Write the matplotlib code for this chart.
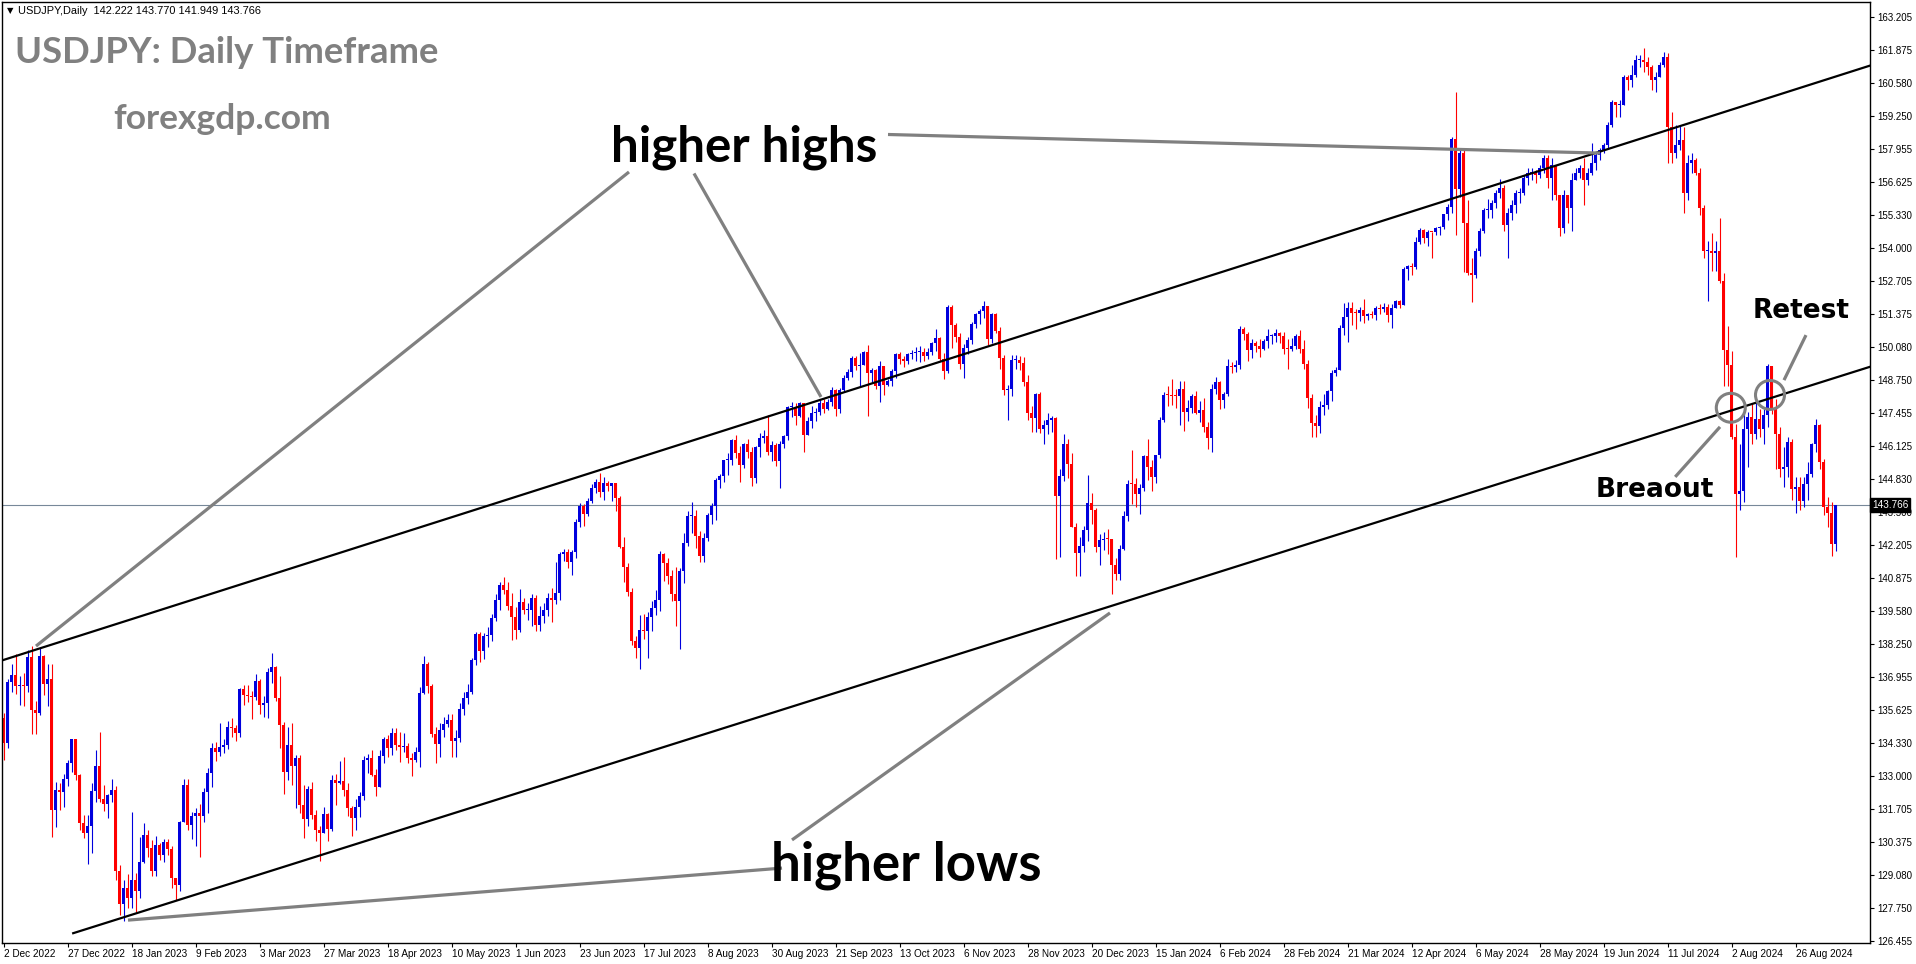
import numpy as np
import matplotlib.pyplot as plt
from matplotlib.patches import Ellipse
import matplotlib.transforms as mtransforms

# --- data (USDJPY daily, 2 Dec 2022 .. 9 Sep 2024) ---
first_open = 135.30

close = [
    134.31,
    136.75, 137.02, 136.60, 136.64, 136.58, 137.72, 135.61, 135.51, 137.76, 136.68,
    136.88, 131.67, 132.44, 132.36, 132.88, 133.52, 134.46, 133.04, 131.12,
    130.73, 131.00, 132.42, 133.40, 132.08, 131.89, 132.24, 132.45, 129.23, 127.91,
    128.54, 128.16, 128.88, 128.42, 129.58, 130.66, 130.15, 129.22, 130.24, 129.88,
    130.37, 130.09, 128.94, 128.67, 131.19, 132.63, 131.07, 131.40, 131.54, 131.40,
    132.37, 133.14, 134.13, 133.95, 134.16, 134.25, 134.96, 134.90, 134.70, 136.45,
    136.24, 136.18, 136.14, 136.77, 135.83, 135.90, 137.15, 137.34, 136.11, 135.04,
    133.18, 134.23, 133.42, 133.73, 131.85, 131.28, 132.48, 131.45, 130.87, 130.72,
    131.48, 130.91, 132.86, 132.71, 132.80, 132.44, 131.71, 131.32, 131.76, 132.19,
    133.63, 133.71, 133.06, 132.56, 133.78, 134.48, 134.11, 134.72, 134.23, 134.15,
    134.21, 133.72, 133.62, 133.94, 136.29, 137.46, 136.58, 134.69, 134.26, 134.83,
    135.09, 135.24, 134.41, 134.52, 135.68, 136.10, 136.34, 137.60, 138.67, 137.99,
    138.58, 138.60, 139.29, 139.99, 140.61, 140.40, 139.77, 139.34, 138.81, 139.94,
    139.59, 139.59, 140.10, 139.00, 139.37, 139.62, 140.09, 140.00, 140.30, 141.83,
    141.93, 141.53, 141.92, 143.10, 143.73, 143.44, 143.93, 144.47, 144.70, 144.31,
    144.67, 144.54, 144.65, 144.05, 142.11, 141.31, 140.34, 138.38, 138.10, 138.82,
    138.78, 139.31, 139.70, 140.02, 141.82, 141.49, 140.95, 140.24, 139.96, 141.17,
    142.29, 143.33, 143.33, 142.55, 141.76, 142.47, 143.37, 143.73, 144.77, 144.93,
    145.56, 145.57, 146.35, 145.85, 145.39, 146.19, 145.89, 144.86, 146.10, 146.44,
    146.54, 145.91, 146.18, 145.54, 146.22, 146.51, 147.69, 147.70, 147.32, 147.83,
    146.57, 147.12, 147.46, 147.47, 147.84, 147.62, 147.87, 148.36, 147.59, 148.37,
    148.85, 149.07, 149.62, 149.31, 149.36, 149.85, 149.02, 149.14, 148.50, 149.32,
    148.54, 148.72, 149.10, 149.77, 149.57, 149.53, 149.79, 149.83, 149.88, 149.88,
    149.70, 149.88, 150.21, 150.42, 149.60, 149.11, 151.67, 150.94, 150.45, 149.39,
    150.04, 150.36, 150.98, 151.39, 151.51, 151.68, 150.40, 151.37, 150.70, 149.62,
    148.35, 148.38, 149.54, 149.56, 149.45, 148.69, 147.45, 147.23, 148.21, 146.81,
    146.95, 147.18, 147.25, 144.14, 144.95, 146.20, 145.42, 142.92, 141.88, 142.16,
    142.80, 143.86, 143.59, 142.12, 142.40, 142.42, 142.41, 141.38, 141.03,
    142.05, 143.34, 144.62, 144.61, 144.20, 144.44, 145.74, 145.30, 144.89,
    145.76, 147.18, 148.16, 148.15, 148.12, 148.11, 148.38, 147.47, 147.66, 148.13,
    147.45, 147.58, 146.90, 146.43, 148.38, 148.67, 147.94, 148.19, 149.31, 149.28,
    149.37, 150.78, 150.57, 149.94, 150.21, 150.12, 150.00, 150.30, 150.51, 150.51,
    150.64, 150.49, 149.99, 149.97, 150.10, 150.51, 149.97, 149.38, 148.04, 147.06,
    146.94, 147.68, 147.77, 148.33, 149.05, 149.14, 150.84, 151.25, 151.62, 151.43,
    151.41, 151.55, 151.31, 151.37, 151.34, 151.63, 151.57, 151.66, 151.33, 151.63,
    151.89, 151.73, 153.16, 153.28, 153.25, 154.25, 154.73, 154.40, 154.65, 154.63,
    154.82, 154.83, 155.34, 155.64, 158.33, 156.36, 157.79, 155.00, 153.00, 152.95,
    153.90, 154.70, 155.50, 155.50, 155.80, 156.20, 156.40, 154.90, 155.40, 155.70,
    156.20, 156.20, 156.80, 157.00, 157.00, 156.90, 157.20, 157.60, 156.80, 157.30,
    156.10, 154.80, 156.10, 155.60, 156.70, 157.00, 157.20, 156.70, 157.00, 157.40,
    157.70, 157.90, 158.10, 158.90, 159.80, 159.70, 159.70, 160.80, 160.70, 160.90,
    161.50, 161.50, 161.40, 161.20, 160.70, 160.80, 161.30, 161.60, 158.80, 157.80,
    158.10, 158.30, 156.20, 157.40, 157.50, 157.00, 155.60, 153.90, 153.90, 153.80,
    153.90, 152.70, 149.95, 149.35, 146.50, 144.20, 144.35, 146.80, 147.30, 146.60,
    147.20, 146.80, 147.35, 149.30, 147.60, 146.60, 145.20, 145.30, 146.30, 144.40,
    144.50, 143.95, 144.60, 145.00, 146.20, 146.95, 145.50, 143.70, 143.45, 142.22,
    143.766,
]

high = [
    135.52,
    136.88, 137.45, 137.86, 137.00, 137.11, 138.00, 138.18, 135.99, 138.13, 137.82,
    137.45, 137.47, 132.78, 132.72, 133.08, 133.63, 134.49, 134.40, 133.09,
    131.45, 131.44, 132.71, 134.05, 134.77, 132.66, 132.29, 132.87, 132.59, 129.45,
    128.86, 129.09, 131.58, 129.14, 130.59, 131.12, 130.87, 130.47, 130.60, 130.33,
    130.48, 130.51, 130.23, 128.96, 131.20, 132.90, 132.88, 131.58, 131.74, 131.88,
    132.54, 133.32, 134.32, 134.35, 135.11, 134.48, 135.18, 135.30, 135.03, 136.51,
    136.62, 136.61, 136.37, 137.07, 136.86, 136.19, 137.30, 137.91, 137.38, 136.99,
    135.15, 134.96, 135.11, 133.83, 133.82, 132.65, 132.62, 132.78, 131.64, 131.00,
    131.77, 131.54, 133.04, 133.10, 133.60, 133.76, 132.72, 131.80, 132.08, 132.38,
    133.79, 133.87, 134.04, 133.28, 134.03, 134.57, 134.62, 134.92, 134.93, 134.75,
    134.73, 134.31, 133.91, 134.16, 136.56, 137.77, 137.53, 136.66, 134.97, 135.13,
    135.36, 135.47, 135.47, 134.82, 135.91, 136.33, 136.67, 137.70, 138.75, 138.74,
    138.71, 138.91, 139.46, 140.23, 140.73, 140.93, 140.73, 140.29, 139.73, 140.45,
    140.10, 139.87, 140.23, 140.22, 139.75, 139.89, 140.27, 140.50, 141.50, 141.93,
    142.04, 142.03, 142.00, 143.21, 143.86, 143.82, 144.06, 144.61, 144.81, 145.07,
    144.90, 144.74, 144.67, 144.67, 144.13, 142.50, 141.49, 140.49, 138.56, 139.42,
    139.43, 139.51, 139.98, 140.42, 141.95, 141.87, 141.68, 141.19, 141.32, 141.27,
    142.68, 143.55, 143.89, 143.59, 142.73, 142.67, 143.46, 143.86, 144.84, 145.01,
    145.58, 145.86, 146.41, 146.56, 146.14, 146.25, 146.40, 146.08, 146.13, 146.64,
    146.75, 147.37, 146.31, 146.24, 146.31, 146.55, 147.71, 147.87, 147.82, 147.87,
    147.11, 147.27, 147.74, 147.65, 147.95, 148.01, 148.00, 148.46, 148.39, 148.43,
    148.97, 149.18, 149.71, 149.71, 149.82, 149.90, 150.16, 149.23, 149.21, 149.53,
    149.21, 148.80, 149.20, 149.83, 149.85, 149.72, 149.84, 149.94, 150.08, 150.10,
    150.03, 150.01, 150.27, 150.77, 150.47, 149.83, 151.72, 151.72, 151.01, 150.63,
    150.20, 150.48, 151.05, 151.43, 151.59, 151.91, 151.71, 151.43, 151.43, 150.88,
    149.74, 148.56, 149.74, 149.75, 149.69, 149.67, 148.94, 147.73, 148.23, 148.26,
    147.16, 147.45, 147.33, 147.30, 145.21, 146.59, 146.40, 145.87, 143.08, 142.52,
    142.96, 144.96, 144.25, 143.67, 142.63, 142.69, 142.81, 142.34, 141.68,
    142.21, 143.56, 144.79, 145.98, 144.86, 144.63, 145.79, 146.41, 145.58,
    145.78, 147.30, 148.28, 148.51, 148.80, 148.40, 148.70, 148.70, 147.97, 148.21,
    148.31, 147.91, 148.05, 147.08, 148.58, 148.89, 148.72, 148.27, 149.58, 149.46,
    149.55, 150.89, 150.88, 150.65, 150.39, 150.30, 150.38, 150.37, 150.77, 150.59,
    150.80, 150.68, 150.68, 150.37, 150.41, 150.59, 150.75, 150.35, 149.55, 148.20,
    147.35, 147.93, 148.18, 148.36, 149.16, 149.29, 150.95, 151.82, 151.86, 151.86,
    151.57, 151.65, 151.97, 151.40, 151.48, 151.70, 151.76, 151.81, 151.78, 151.79,
    151.92, 151.93, 153.24, 153.32, 153.40, 154.45, 154.79, 154.78, 154.72, 154.65,
    154.86, 154.88, 155.37, 155.74, 158.44, 160.21, 157.99, 157.99, 155.90, 153.60,
    154.00, 154.80, 155.60, 155.95, 155.90, 156.30, 156.75, 156.50, 155.60, 155.90,
    156.30, 156.40, 156.90, 157.20, 157.20, 157.10, 157.30, 157.70, 157.70, 157.60,
    157.30, 156.10, 156.30, 156.10, 157.00, 157.20, 157.30, 157.60, 157.20, 158.20,
    157.80, 158.00, 158.20, 159.00, 159.90, 159.80, 159.90, 160.90, 160.90, 161.30,
    161.70, 161.70, 161.95, 161.60, 161.30, 161.00, 161.40, 161.80, 161.76, 159.40,
    158.90, 158.90, 158.80, 157.70, 157.80, 157.60, 157.20, 155.70, 154.30, 154.60,
    154.30, 155.20, 153.00, 150.90, 149.90, 147.00, 146.20, 147.90, 147.50, 147.80,
    147.90, 147.60, 147.60, 149.40, 149.30, 148.00, 146.90, 146.10, 146.50, 146.40,
    144.90, 144.90, 144.90, 145.50, 146.25, 147.20, 147.00, 145.60, 144.10, 143.90,
    143.770,
]

low = [
    133.63,
    134.12, 136.34, 136.25, 135.84, 135.78, 136.34, 134.67, 134.67, 135.43, 136.23,
    135.77, 130.58, 130.99, 131.66, 131.77, 132.61, 133.15, 132.86, 130.84,
    130.53, 129.52, 129.93, 131.96, 131.96, 131.61, 131.33, 131.98, 128.86, 127.46,
    127.22, 127.76, 127.77, 127.59, 128.14, 129.55, 129.79, 129.03, 129.03, 129.67,
    129.58, 129.86, 128.56, 128.08, 128.42, 131.53, 130.84, 130.50, 130.20, 129.80,
    131.18, 131.52, 132.56, 133.58, 133.79, 133.90, 134.06, 134.55, 134.38, 134.55,
    135.84, 135.95, 135.26, 136.04, 135.45, 135.36, 135.32, 136.71, 135.99, 134.12,
    132.29, 132.84, 132.66, 131.73, 131.54, 130.54, 131.01, 131.30, 130.40, 129.64,
    130.72, 130.41, 130.82, 131.85, 132.70, 132.22, 131.40, 130.62, 130.85, 131.37,
    132.06, 133.14, 132.99, 132.20, 132.57, 133.52, 133.76, 133.82, 134.02, 133.55,
    133.96, 133.53, 133.01, 133.54, 133.38, 136.28, 136.31, 134.55, 133.50, 133.74,
    134.57, 134.95, 133.75, 133.74, 134.37, 135.42, 135.85, 136.25, 137.42, 137.54,
    137.64, 138.12, 138.36, 139.18, 139.60, 140.23, 139.59, 138.43, 138.44, 138.74,
    139.43, 139.20, 138.97, 138.77, 138.76, 139.08, 139.36, 139.12, 139.86, 139.99,
    141.54, 141.26, 141.00, 141.66, 142.90, 142.93, 143.35, 143.85, 144.27, 144.10,
    143.99, 144.33, 143.93, 143.55, 142.07, 140.71, 140.15, 138.21, 137.69, 137.24,
    138.45, 137.69, 138.79, 139.39, 139.58, 140.74, 140.63, 139.96, 138.96, 138.07,
    140.69, 142.17, 142.66, 142.06, 141.51, 141.51, 142.36, 143.01, 143.19, 144.45,
    144.70, 144.98, 145.37, 145.67, 144.71, 145.25, 145.64, 144.54, 144.64, 145.71,
    146.23, 145.78, 145.52, 145.35, 144.45, 146.03, 146.35, 147.27, 146.95, 147.27,
    145.91, 146.55, 146.85, 147.12, 147.37, 147.46, 147.56, 147.71, 147.31, 147.44,
    148.29, 148.77, 148.86, 149.16, 148.52, 149.34, 147.32, 148.67, 148.40, 147.87,
    148.17, 148.50, 148.53, 148.85, 149.38, 149.27, 149.39, 149.57, 149.52, 149.48,
    149.50, 149.58, 149.75, 149.91, 149.51, 148.80, 149.03, 150.04, 150.27, 149.20,
    148.84, 149.77, 150.18, 150.84, 150.98, 151.21, 150.15, 150.23, 150.63, 149.19,
    148.15, 147.15, 148.11, 149.20, 149.15, 148.51, 147.17, 146.67, 146.68, 146.64,
    146.22, 146.62, 146.67, 141.63, 141.73, 144.75, 144.87, 142.89, 140.97, 140.95,
    141.91, 142.34, 143.02, 141.92, 141.41, 141.98, 141.85, 140.25, 140.80,
    140.81, 141.98, 143.14, 143.81, 143.70, 143.42, 144.35, 144.79, 144.34,
    144.66, 145.67, 147.09, 147.72, 147.76, 147.66, 146.98, 146.74, 147.13, 147.43,
    147.41, 147.10, 146.68, 146.01, 145.89, 148.20, 147.61, 147.63, 148.13, 149.03,
    149.07, 149.21, 150.35, 149.53, 149.62, 149.85, 149.66, 149.93, 150.04, 150.18,
    150.28, 150.24, 149.79, 149.20, 149.89, 149.97, 149.83, 149.20, 147.63, 146.48,
    146.48, 146.66, 147.35, 147.59, 147.93, 148.90, 149.25, 150.56, 150.26, 150.95,
    150.80, 151.09, 151.03, 151.16, 151.22, 151.16, 151.37, 151.44, 151.05, 150.81,
    151.65, 151.61, 151.73, 152.74, 152.93, 153.18, 154.18, 154.19, 154.09, 153.59,
    154.53, 154.53, 154.75, 155.12, 155.38, 154.54, 156.04, 153.04, 152.95, 151.86,
    152.80, 153.70, 154.60, 155.20, 155.20, 155.60, 156.00, 154.70, 153.60, 155.10,
    155.40, 155.80, 156.10, 156.50, 156.70, 156.60, 156.80, 157.00, 156.40, 155.90,
    155.90, 154.50, 154.60, 155.00, 154.70, 156.70, 156.80, 155.70, 156.50, 156.90,
    157.10, 157.50, 157.80, 158.00, 158.80, 159.20, 159.20, 159.70, 160.30, 160.40,
    160.80, 161.20, 161.00, 160.90, 160.30, 160.20, 160.80, 161.20, 157.40, 157.40,
    157.60, 157.90, 155.40, 155.90, 157.00, 156.90, 155.30, 153.60, 151.90, 153.10,
    153.10, 152.60, 148.50, 148.50, 146.40, 141.70, 143.60, 143.90, 145.30, 146.20,
    146.40, 146.50, 146.20, 146.90, 147.40, 145.20, 144.90, 144.50, 144.90, 144.00,
    143.45, 143.60, 143.70, 144.00, 144.90, 145.90, 145.20, 143.40, 142.90, 141.75,
    141.949,
]

date_labels = ['2 Dec 2022', '27 Dec 2022', '18 Jan 2023', '9 Feb 2023', '3 Mar 2023',
               '27 Mar 2023', '18 Apr 2023', '10 May 2023', '1 Jun 2023', '23 Jun 2023',
               '17 Jul 2023', '8 Aug 2023', '30 Aug 2023', '21 Sep 2023', '13 Oct 2023',
               '6 Nov 2023', '28 Nov 2023', '20 Dec 2023', '15 Jan 2024', '6 Feb 2024',
               '28 Feb 2024', '21 Mar 2024', '12 Apr 2024', '6 May 2024', '28 May 2024',
               '19 Jun 2024', '11 Jul 2024', '2 Aug 2024', '26 Aug 2024']
bars_per_label = 16

price_ticks = [163.205, 161.875, 160.580, 159.250, 157.955, 156.625, 155.330, 154.000,
               152.705, 151.375, 150.080, 148.750, 147.455, 146.125, 144.830, 143.500,
               142.205, 140.875, 139.580, 138.250, 136.955, 135.625, 134.330, 133.000,
               131.705, 130.375, 129.080, 127.750, 126.455]

last_price = 143.766

# channel lines: (bar, price) end points
upper_line = ([-0.4, 466.6], [137.60, 161.26])
lower_line = ([17.4, 466.6], [126.75, 149.28])

# grey pointer lines (bar, price)
pointers = [
    ([8.1, 156.35], [138.17, 157.03]),
    ([172.6, 204.35], [156.97, 148.08]),
    ([221.1, 399.1], [158.52, 157.78]),
    ([31.1, 194.6], [127.27, 129.34]),
    ([197.1, 276.6], [130.46, 139.49]),
    ([450.6, 445.1], [150.54, 148.75]),
    ([417.9, 429.1], [144.90, 146.89]),
]
circles = [(431.8, 147.65), (441.6, 148.16)]

# --- figure ---
W, H = 1916, 964
plt.rcParams['font.family'] = ['Liberation Sans', 'DejaVu Sans']
fig = plt.figure(figsize=(W / 100, H / 100), dpi=100)
ax = fig.add_axes([2 / W, 21 / H, 1868 / W, 941 / H])

c = np.array(close)
o = np.concatenate([[first_open], c[:-1]])
hi = np.maximum(np.array(high), np.maximum(o, c))
lo = np.minimum(np.array(low), np.minimum(o, c))
x = np.arange(len(c))
up = c >= o
cols = np.where(up, '#0000dd', '#ff0000')

ax.vlines(x, lo, hi, colors=cols, lw=0.8, zorder=2)
body = np.maximum(np.abs(c - o), 0.04)
ax.bar(x, body, bottom=np.minimum(o, c), width=0.78, color=cols, lw=0, zorder=2)

ax.axhline(last_price, color='#778899', lw=0.8, zorder=1)

ax.plot(*upper_line, color='black', lw=1.6, zorder=3)
ax.plot(*lower_line, color='black', lw=1.6, zorder=3)
for px, py in pointers:
    ax.plot(px, py, color='#808080', lw=2.3, zorder=4, solid_capstyle='butt')
for cx, cy in circles:
    ax.add_patch(Ellipse((cx, cy), 7.25, 1.15, fill=False, ec='#808080', lw=2.2, zorder=4))

ax.text(185.1, 157.46, 'higher highs', family='Lato', weight='bold', fontsize=35.5,
        ha='center', va='baseline', zorder=5)
ax.text(225.6, 128.86, 'higher lows', family='Lato', weight='bold', fontsize=38,
        ha='center', va='baseline', zorder=5)
ax.text(449.35, 151.22, 'Retest', family='DejaVu Sans', weight='bold', fontsize=19,
        ha='center', va='baseline', zorder=5)
ax.text(412.85, 144.09, 'Breaout', family='DejaVu Sans', weight='bold', fontsize=19,
        ha='center', va='baseline', zorder=5)
ax.text(2.85, 161.36, 'USDJPY: Daily Timeframe', family='Lato', weight='bold',
        fontsize=26.3, color='#808080', ha='left', va='baseline', zorder=5)
ax.text(27.35, 158.74, 'forexgdp.com', family='Lato', weight='bold',
        fontsize=25.5, color='#808080', ha='left', va='baseline', zorder=5)

fig.text(7 / W, 1 - 11 / H, '\u25bc', fontsize=6, va='center', ha='left',
         family=['DejaVu Sans'])
fig.text(18 / W, 1 - 11 / H, 'USDJPY,Daily  142.222 143.770 141.949 143.766',
         fontsize=7.9, va='center', ha='left')

# axes, ticks
ax.set_xlim(-0.4, 466.6)
ax.set_ylim(126.36, 163.79)
ax.yaxis.tick_right()
ax.set_yticks(price_ticks)
ax.set_yticklabels([f'{p:.3f}' for p in price_ticks])
ax.set_xticks(np.arange(len(date_labels)) * bars_per_label)
ax.set_xticklabels(date_labels, ha='left')
ax.tick_params(axis='y', length=3, width=0.8, pad=2, labelsize=7)
ax.tick_params(axis='x', length=3, width=0.8, pad=1.5, labelsize=7.2)
for s in ax.spines.values():
    s.set_color('black')
    s.set_linewidth(1)

trans = mtransforms.blended_transform_factory(ax.transAxes, ax.transData)
ax.text(1.001, last_price, f'{last_price:.3f}', transform=trans, fontsize=7.2, color='white',
        ha='left', va='center', zorder=6, clip_on=False,
        bbox=dict(boxstyle='square,pad=0.2', fc='black', ec='black'))

fig.savefig('out.png', dpi=100, facecolor='white')
